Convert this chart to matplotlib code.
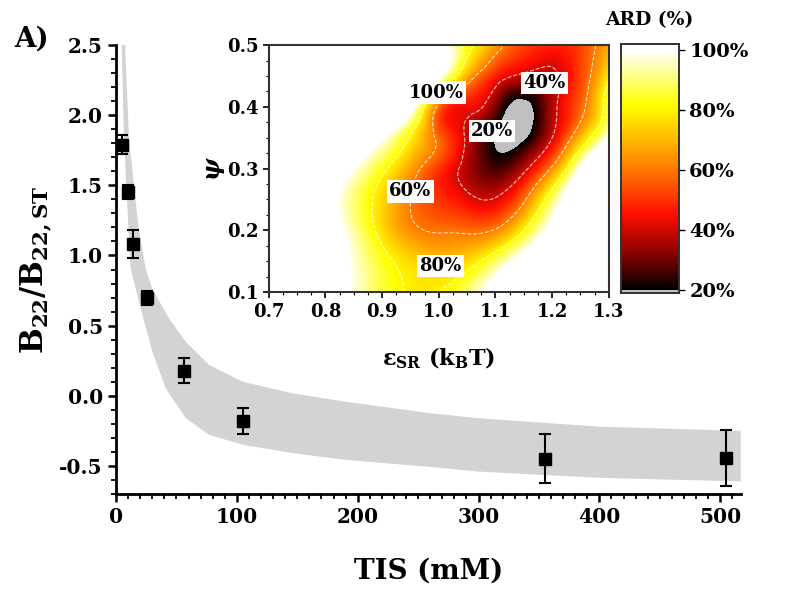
import numpy as np
import matplotlib
matplotlib.use("Agg")
import matplotlib.pyplot as plt
import matplotlib.tri as mtri
from matplotlib.colors import LinearSegmentedColormap, Normalize
from matplotlib.cm import ScalarMappable
from matplotlib.ticker import MultipleLocator

plt.rcParams['font.family'] = 'DejaVu Serif'
plt.rcParams['font.weight'] = 'bold'
plt.rcParams['mathtext.fontset'] = 'dejavuserif'

# --- main panel data: B22/B22,ST vs TIS ---
tis = [5, 10, 14, 26, 56, 105, 355, 505]
b22 = [1.79, 1.455, 1.085, 0.70, 0.18, -0.18, -0.45, -0.445]
b22_err = [0.07, 0.05, 0.10, 0.05, 0.09, 0.09, 0.175, 0.20]

# grey band (range of model predictions)
band_up_x = [7.5, 10.8, 18.5, 24.6, 30.1, 44, 57.8, 77, 105, 146, 188, 260, 300, 400, 517]
band_up_y = [2.5, 1.83, 1.21, 0.904, 0.762, 0.55, 0.384, 0.22, 0.10, 0.018, -0.04, -0.124, -0.16, -0.22, -0.25]
band_lo_x = [4.7, 6.6, 10.2, 12.2, 13.5, 20.5, 30.1, 41.2, 57.8, 77, 105, 146, 188, 260, 300, 400, 517]
band_lo_y = [2.5, 1.83, 1.21, 0.904, 0.857, 0.62, 0.313, 0.053, -0.16, -0.278, -0.349, -0.408,
             -0.455, -0.507, -0.54, -0.585, -0.61]

# --- inset data: ARD (%) on eps_SR x psi grid (values above 100 show white) ---
eps = [0.70, 0.75, 0.80, 0.85, 0.90, 0.95, 1.00, 1.05, 1.10, 1.15, 1.20, 1.25, 1.30]
psi = [0.10, 0.15, 0.20, 0.25, 0.30, 0.35, 0.40, 0.45, 0.50]
ard = [
    [135, 123, 111, 98, 86, 79, 80, 90, 108, 126, 144, 150, 150],   # psi 0.10
    [136, 124, 111, 97, 84, 75, 71, 75, 88, 106, 124, 142, 150],    # psi 0.15
    [138, 126, 110, 93, 76, 63, 59, 58, 61, 80, 104, 126, 148],     # psi 0.20
    [137, 122, 106, 90, 75, 60, 50, 43, 41, 58, 88, 118, 148],      # psi 0.25
    [148, 132, 116, 99, 83, 66, 50, 36, 26, 37, 62, 100, 140],      # psi 0.30
    [150, 150, 134, 118, 100, 79, 57, 38, 19, 18, 40, 70, 100],     # psi 0.35
    [150, 150, 150, 145, 130, 105, 57, 44, 30, 16, 36, 56, 88],     # psi 0.40
    [150, 150, 150, 150, 150, 135, 102, 68, 47, 38, 38, 52, 78],    # psi 0.45
    [150, 150, 150, 150, 150, 150, 108, 85, 65, 52, 48, 52, 68],    # psi 0.50
]
contour_levels = [40, 60, 80]
label_text = ['100%', '40%', '20%', '60%', '80%']
label_eps = [0.995, 1.187, 1.094, 0.95, 1.003]
label_psi = [0.423, 0.439, 0.361, 0.263, 0.142]
cbar_ticks = [20, 40, 60, 80, 100]

fig = plt.figure(figsize=(8, 6.06), dpi=100)

# main axes
ax = fig.add_axes([0.145, 0.1848, 0.781, 0.7409])
ax.fill(band_up_x + band_lo_x[::-1], band_up_y + band_lo_y[::-1], color='#d3d3d3', lw=0, zorder=1)
ax.errorbar(tis, b22, yerr=b22_err, fmt='s', color='black', ms=8, elinewidth=1.5,
            capsize=4.5, capthick=1.5, zorder=3)
ax.set_xlim(0, 517)
ax.set_ylim(-0.7, 2.5)
ax.xaxis.set_major_locator(MultipleLocator(100))
ax.xaxis.set_minor_locator(MultipleLocator(10))
ax.yaxis.set_major_locator(MultipleLocator(0.5))
ax.yaxis.set_minor_locator(MultipleLocator(0.1))
ax.spines['top'].set_visible(False)
ax.spines['right'].set_visible(False)
for s in ['left', 'bottom']:
    ax.spines[s].set_linewidth(2)
ax.tick_params(which='major', direction='out', length=6, width=1.8, labelsize=14.5)
ax.tick_params(which='minor', direction='out', length=3.5, width=1.3)
ax.set_xlabel('TIS (mM)', fontsize=20, fontweight='bold', labelpad=22)
ax.set_ylabel(r'$\mathbf{B_{22}/B_{22,ST}}$', fontsize=22, labelpad=4)
ax.set_yticklabels([f'{v:.1f}' for v in ax.get_yticks()])
fig.text(0.04, 0.935, 'A)', fontsize=20, fontweight='bold', ha='center', va='center')

# inset heat map
cmap = LinearSegmentedColormap.from_list('ard', [
    (0.0, (0, 0, 0)),
    (0.125, (0.45, 0, 0)),
    (0.3125, (1, 0.05, 0)),
    (0.5, (1, 0.47, 0)),
    (0.625, (1, 0.72, 0)),
    (0.775, (1, 1, 0)),
    (1.0, (1, 1, 1)),
])
cmap.set_over('white')
cmap.set_under('#c0c0c0')
norm = Normalize(20, 100)

axi = fig.add_axes([0.336, 0.518, 0.425, 0.4076])
E, P = np.meshgrid(eps, psi)
tri = mtri.Triangulation(E.ravel(), P.ravel())
z = np.array(ard, dtype=float).ravel()
refiner = mtri.UniformTriRefiner(tri)
tri_f, ard_f = refiner.refine_field(z, subdiv=5)
cf = axi.tricontourf(tri_f, ard_f, levels=np.linspace(20, 100, 81), cmap=cmap, norm=norm, extend='both')
axi.tricontour(tri_f, ard_f, levels=contour_levels, colors='white', linestyles='--',
               linewidths=0.8, alpha=0.75)
for t, x, y in zip(label_text, label_eps, label_psi):
    axi.text(x, y, t, fontsize=13, fontweight='bold', ha='center', va='center',
             bbox=dict(facecolor='white', edgecolor='none', pad=1.5))
axi.set_xlim(0.7, 1.3)
axi.set_ylim(0.1, 0.5)
axi.xaxis.set_major_locator(MultipleLocator(0.1))
axi.xaxis.set_minor_locator(MultipleLocator(0.025))
axi.yaxis.set_major_locator(MultipleLocator(0.1))
axi.yaxis.set_minor_locator(MultipleLocator(0.025))
axi.set_xticklabels([f'{v:.1f}' for v in axi.get_xticks()])
axi.set_yticklabels([f'{v:.1f}' for v in axi.get_yticks()])
for s in axi.spines.values():
    s.set_linewidth(1.5)
    s.set_color('#333333')
axi.tick_params(which='major', direction='out', length=4, width=1.2, labelsize=13)
axi.tick_params(which='minor', direction='out', length=2, width=0.8)
axi.set_xlabel(r'$\mathbf{\varepsilon_{SR}\ (k_BT)}$', fontsize=16, labelpad=18)
axi.set_ylabel(r'$\psi$', fontsize=17, labelpad=0)

# colour bar
cax = fig.add_axes([0.776, 0.5165, 0.0725, 0.411])
cb = fig.colorbar(ScalarMappable(norm=norm, cmap=cmap), cax=cax, ticks=cbar_ticks)
cb.outline.set_visible(False)
cax.set_ylim(19, 102)
cax.axhspan(19, 20, color='#c0c0c0', lw=0)
for s in cax.spines.values():
    s.set_visible(True)
    s.set_linewidth(1.2)
    s.set_color('#333333')
cax.set_yticks(cbar_ticks)
cax.set_yticklabels([f'{v}%' for v in cbar_ticks])
cax.tick_params(direction='out', length=4, width=1, labelsize=14)
cax.minorticks_off()
fig.text(0.811, 0.967, 'ARD (%)', fontsize=13.5, fontweight='bold', ha='center', va='center')

fig.savefig('out.png', dpi=100)
